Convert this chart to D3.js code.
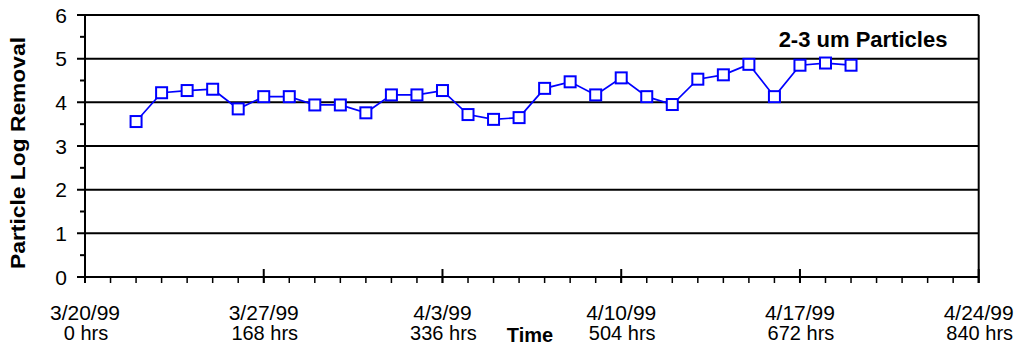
<!DOCTYPE html>
<html>
<head>
<meta charset="utf-8">
<script src="https://cdn.jsdelivr.net/npm/d3@7/dist/d3.min.js"></script>
<style>
  html, body { margin: 0; padding: 0; background: #fff; }
  svg { display: block; }
  text { font-family: "Liberation Sans", Arial, sans-serif; fill: #000; }
</style>
</head>
<body>
<svg id="chart" width="1022" height="350"></svg>
<script>
// ---- data ----
const hours = [48, 72, 96, 120, 144, 168, 192, 216, 240, 264, 288, 312, 336, 360, 384,
               408, 432, 456, 480, 504, 528, 552, 576, 600, 624, 648, 672, 696, 720];
const logRemoval = [3.56, 4.22, 4.27, 4.30, 3.85, 4.13, 4.13, 3.94, 3.94, 3.76, 4.17, 4.17, 4.27, 3.72, 3.61,
                    3.65, 4.32, 4.47, 4.17, 4.56, 4.13, 3.95, 4.53, 4.63, 4.87, 4.13, 4.85, 4.90, 4.85];
const tickHours = [0, 168, 336, 504, 672, 840];
const tickDates = ["3/20/99", "3/27/99", "4/3/99", "4/10/99", "4/17/99", "4/24/99"];
const tickHrsLabels = ["0 hrs", "168 hrs", "336 hrs", "504 hrs", "672 hrs", "840 hrs"];
const yTicks = [0, 1, 2, 3, 4, 5, 6];
const seriesName = "2-3 um Particles";

// ---- layout ----
const svg = d3.select("#chart");
const pLeft = 85, pRight = 978.7, pTop = 15, pBottom = 277;
const x = d3.scaleLinear().domain([0, 840]).range([pLeft, pRight]);
const y = d3.scaleLinear().domain([0, 6]).range([pBottom, pTop]);

const g = svg.append("g");

// horizontal gridlines (major y ticks extend left of axis)
g.selectAll("line.grid").data(yTicks).enter().append("line")
  .attr("x1", pLeft - 8).attr("x2", pRight)
  .attr("y1", d => y(d)).attr("y2", d => y(d))
  .attr("stroke", "#000").attr("stroke-width", 2);

// minor y ticks
g.selectAll("line.ym").data(d3.range(0.5, 6, 1)).enter().append("line")
  .attr("x1", pLeft - 5).attr("x2", pLeft)
  .attr("y1", d => y(d)).attr("y2", d => y(d))
  .attr("stroke", "#000").attr("stroke-width", 2);

// left axis and right border
g.append("line").attr("x1", pLeft).attr("x2", pLeft).attr("y1", pTop).attr("y2", pBottom + 6)
  .attr("stroke", "#000").attr("stroke-width", 2);
g.append("line").attr("x1", pRight).attr("x2", pRight).attr("y1", pTop).attr("y2", pBottom + 6)
  .attr("stroke", "#000").attr("stroke-width", 2);

// minor x ticks (daily)
g.selectAll("line.xm").data(d3.range(24, 840, 24)).enter().append("line")
  .attr("x1", d => x(d)).attr("x2", d => x(d))
  .attr("y1", pBottom).attr("y2", pBottom + 6)
  .attr("stroke", "#000").attr("stroke-width", 1.5);

// major x ticks (weekly), crossing the axis
g.selectAll("line.xM").data(tickHours).enter().append("line")
  .attr("x1", d => x(d)).attr("x2", d => x(d))
  .attr("y1", pBottom - 8).attr("y2", pBottom + 6)
  .attr("stroke", "#000").attr("stroke-width", 2);

// y tick labels
g.selectAll("text.yl").data(yTicks).enter().append("text")
  .attr("x", 67).attr("y", d => y(d)).attr("dy", "0.36em")
  .attr("text-anchor", "end").attr("font-size", 21)
  .text(d => d);

// x tick labels
tickHours.forEach((h, i) => {
  g.append("text").attr("x", x(h)).attr("y", 320).attr("text-anchor", "middle")
    .attr("font-size", 21).text(tickDates[i]);
  g.append("text").attr("x", x(h) + 1).attr("y", 340).attr("text-anchor", "middle")
    .attr("font-size", 20).text(tickHrsLabels[i]);
});

// axis titles
g.append("text").attr("x", 530).attr("y", 342).attr("text-anchor", "middle")
  .attr("font-size", 20).attr("font-weight", "bold").text("Time");
g.append("text").attr("transform", `translate(25,153) rotate(-90)`)
  .attr("text-anchor", "middle").attr("font-size", 20).attr("font-weight", "bold")
  .attr("textLength", 232).attr("lengthAdjust", "spacingAndGlyphs")
  .text("Particle Log Removal");

// series title
g.append("text").attr("x", 863).attr("y", 47).attr("text-anchor", "middle")
  .attr("font-size", 22).attr("font-weight", "bold").text(seriesName);

// series line
const line = d3.line().x((d, i) => x(hours[i])).y(d => y(d));
g.append("path").datum(logRemoval).attr("d", line)
  .attr("fill", "none").attr("stroke", "#0000ff").attr("stroke-width", 1.7);

// markers
g.selectAll("rect.m").data(logRemoval).enter().append("rect")
  .attr("x", (d, i) => x(hours[i]) - 5.5).attr("y", d => y(d) - 5.5)
  .attr("width", 11).attr("height", 11)
  .attr("fill", "#fff").attr("stroke", "#0000ff").attr("stroke-width", 2);
</script>
</body>
</html>
